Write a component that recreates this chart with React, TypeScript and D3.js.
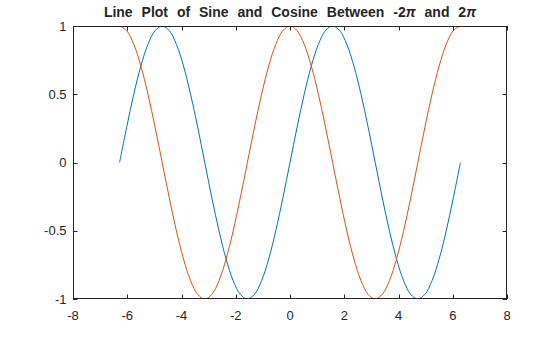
import React from "react";
import * as d3 from "d3";

const xValues = [
  -6.283, -6.021, -5.760, -5.498, -5.236, -4.974, -4.712, -4.451, -4.189, -3.927, -3.665, -3.403,
  -3.142, -2.880, -2.618, -2.356, -2.094, -1.833, -1.571, -1.309, -1.047, -0.785, -0.524, -0.262,
  0, 0.262, 0.524, 0.785, 1.047, 1.309, 1.571, 1.833, 2.094, 2.356, 2.618, 2.880,
  3.142, 3.403, 3.665, 3.927, 4.189, 4.451, 4.712, 4.974, 5.236, 5.498, 5.760, 6.021, 6.283,
];
const sineValues = [
  0, 0.259, 0.5, 0.707, 0.866, 0.966, 1, 0.966, 0.866, 0.707, 0.5, 0.259,
  0, -0.259, -0.5, -0.707, -0.866, -0.966, -1, -0.966, -0.866, -0.707, -0.5, -0.259,
  0, 0.259, 0.5, 0.707, 0.866, 0.966, 1, 0.966, 0.866, 0.707, 0.5, 0.259,
  0, -0.259, -0.5, -0.707, -0.866, -0.966, -1, -0.966, -0.866, -0.707, -0.5, -0.259, 0,
];
const cosineValues = [
  1, 0.966, 0.866, 0.707, 0.5, 0.259, 0, -0.259, -0.5, -0.707, -0.866, -0.966,
  -1, -0.966, -0.866, -0.707, -0.5, -0.259, 0, 0.259, 0.5, 0.707, 0.866, 0.966,
  1, 0.966, 0.866, 0.707, 0.5, 0.259, 0, -0.259, -0.5, -0.707, -0.866, -0.966,
  -1, -0.966, -0.866, -0.707, -0.5, -0.259, 0, 0.259, 0.5, 0.707, 0.866, 0.966, 1,
];
const xTicks = [-8, -6, -4, -2, 0, 2, 4, 6, 8];
const yTicks = [-1, -0.5, 0, 0.5, 1];

const W = 560, H = 337;
const M = { left: 73, right: 507, top: 26, bottom: 299 };
const AX = "#262626";
const FONT = "'Liberation Sans', Arial, Helvetica, sans-serif";

export default function App() {
  const x = d3.scaleLinear().domain([-8, 8]).range([M.left, M.right]);
  const y = d3.scaleLinear().domain([-1, 1]).range([M.bottom, M.top]);
  const line = d3
    .line<number>()
    .x((_, i) => x(xValues[i]))
    .y((d) => y(d))
    .curve(d3.curveCatmullRom.alpha(0.5));
  const tl = 4.5;
  const fmt = (v: number) => String(v);
  return (
    <svg width={W} height={H} style={{ position: "absolute", left: 0, top: 0, background: "#fff" }}>
      <rect x={0} y={0} width={W} height={H} fill="#fff" />
      <defs>
        <clipPath id="clip">
          <rect x={M.left} y={M.top} width={M.right - M.left} height={M.bottom - M.top} />
        </clipPath>
      </defs>
      <g clipPath="url(#clip)" fill="none" strokeWidth={1}>
        <path d={line(sineValues) || ""} stroke="#0072BD" />
        <path d={line(cosineValues) || ""} stroke="#D95319" />
      </g>
      <rect
        x={M.left + 0.5}
        y={M.top + 0.5}
        width={M.right - M.left - 1}
        height={M.bottom - M.top - 1}
        fill="none"
        stroke={AX}
        strokeWidth={1}
      />
      {xTicks.map((t) => (
        <g key={"x" + t}>
          <line x1={Math.round(x(t)) + 0.5} x2={Math.round(x(t)) + 0.5} y1={M.bottom} y2={M.bottom - tl} stroke={AX} />
          <line x1={Math.round(x(t)) + 0.5} x2={Math.round(x(t)) + 0.5} y1={M.top} y2={M.top + tl} stroke={AX} />
          <text x={x(t)} y={319.5} textAnchor="middle" fontFamily={FONT} fontSize={13} fill={AX}>
            {fmt(t)}
          </text>
        </g>
      ))}
      {yTicks.map((t) => (
        <g key={"y" + t}>
          <line x1={M.left} x2={M.left + tl} y1={Math.round(y(t)) + 0.5} y2={Math.round(y(t)) + 0.5} stroke={AX} />
          <line x1={M.right} x2={M.right - tl} y1={Math.round(y(t)) + 0.5} y2={Math.round(y(t)) + 0.5} stroke={AX} />
          <text x={66.5} y={y(t) + 4.7} textAnchor="end" fontFamily={FONT} fontSize={13} fill={AX}>
            {fmt(t)}
          </text>
        </g>
      ))}
      <text
        x={(M.left + M.right) / 2}
        y={17}
        textAnchor="middle"
        fontFamily={FONT}
        fontSize={14}
        fontWeight="bold"
        fill={AX}
        style={{ wordSpacing: "5px" }}
      >
        Line Plot of Sine and Cosine Between -2<tspan fontStyle="italic">π</tspan> and 2<tspan fontStyle="italic">π</tspan>
      </text>
    </svg>
  );
}
